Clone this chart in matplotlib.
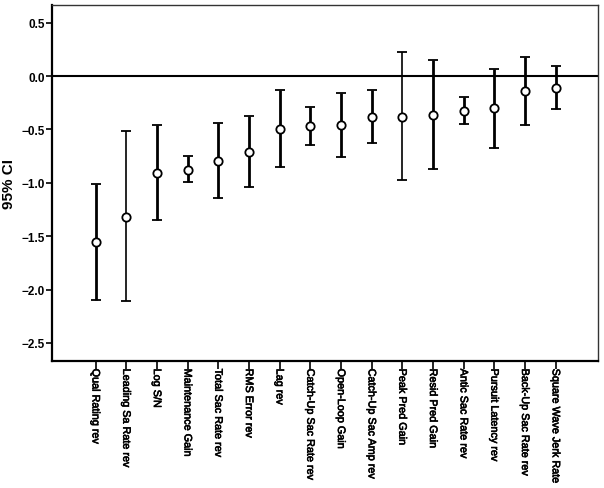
import matplotlib
matplotlib.use("Agg")
import matplotlib.pyplot as plt
import matplotlib.patheffects as pe
from matplotlib.transforms import ScaledTranslation
import numpy as np

categories = ["Qual Rating rev", "Leading Sa Rate rev", "Log S/N", "Maintenance Gain",
              "Total Sac Rate rev", "RMS Error rev", "Lag rev", "Catch-Up Sac Rate rev",
              "Open-Loop Gain", "Catch-Up Sac Amp rev", "Peak Pred Gain", "Resid Pred Gain",
              "Antic Sac Rate rev", "Pursuit Latency rev", "Back-Up Sac Rate rev",
              "Square Wave Jerk Rate"]
means = [-1.551, -1.318, -0.904, -0.876, -0.794, -0.707, -0.493, -0.467,
         -0.455, -0.380, -0.380, -0.362, -0.324, -0.303, -0.140, -0.109]
upper = [-1.013, -0.514, -0.455, -0.748, -0.439, -0.371, -0.128, -0.293,
         -0.159, -0.134, 0.221, 0.150, -0.200, 0.062, 0.178, 0.090]
lower = [-2.097, -2.112, -1.349, -0.997, -1.140, -1.044, -0.854, -0.648,
         -0.754, -0.630, -0.976, -0.873, -0.449, -0.670, -0.462, -0.312]
yticks = [0.5, 0.0, -0.5, -1.0, -1.5, -2.0, -2.5]
ytick_labels = ["0.5", "0.0", "\u22120.5", "\u22121.0", "\u22121.5", "\u22122.0", "\u22122.5"]

bar_lw = [2.0, 1.2, 2.0, 2.0, 2.0, 2.0, 2.0, 2.0, 2.0, 2.0, 1.2, 2.0, 2.0, 2.0, 2.0, 2.0]

plt.rcParams['font.family'] = ['Liberation Sans', 'DejaVu Sans']

fig = plt.figure(figsize=(6.04, 4.89), dpi=100)
ax = fig.add_axes([52/604, 1 - 362/489, (598-52)/604, (362-6)/489])

x = np.arange(len(categories))
for i in range(len(categories)):
    ax.errorbar(x[i], means[i],
                yerr=[[means[i] - lower[i]], [upper[i] - means[i]]],
                fmt='o', mfc='white', mec='black', mew=1.3, ms=6,
                ecolor='black', elinewidth=bar_lw[i], capsize=3.4, capthick=2.5, zorder=3)

ax.axhline(0, color='black', lw=1.5, zorder=2)
ax.set_xlim(-1.42, 16.38)
ax.set_ylim(-2.67, 0.666)
ax.set_yticks(yticks)
ax.set_yticklabels(ytick_labels, fontsize=8.5, fontweight='bold')
ax.set_xticks(x)
ax.set_xticklabels(categories, rotation=270, fontsize=7.8,
                   va='top', ha='center')
stroke = [pe.withStroke(linewidth=0.45, foreground='black')]
for lab in ax.get_xticklabels():
    lab.set_path_effects(stroke)
    lab.set_transform(lab.get_transform() + ScaledTranslation(-2.5/100, 0, fig.dpi_scale_trans))
ax.tick_params(axis='y', direction='out', length=4, width=1.2, pad=1)
ax.tick_params(axis='x', direction='out', length=6, width=1.2, pad=-0.5)
ax.set_ylabel("95% CI", fontsize=11, fontweight='bold', labelpad=4)

for s in ['left', 'bottom']:
    ax.spines[s].set_linewidth(1.6)
    ax.spines[s].set_color('black')
for s in ['top', 'right']:
    ax.spines[s].set_linewidth(1.0)
    ax.spines[s].set_color('#333333')

fig.savefig("out.png", dpi=100)
